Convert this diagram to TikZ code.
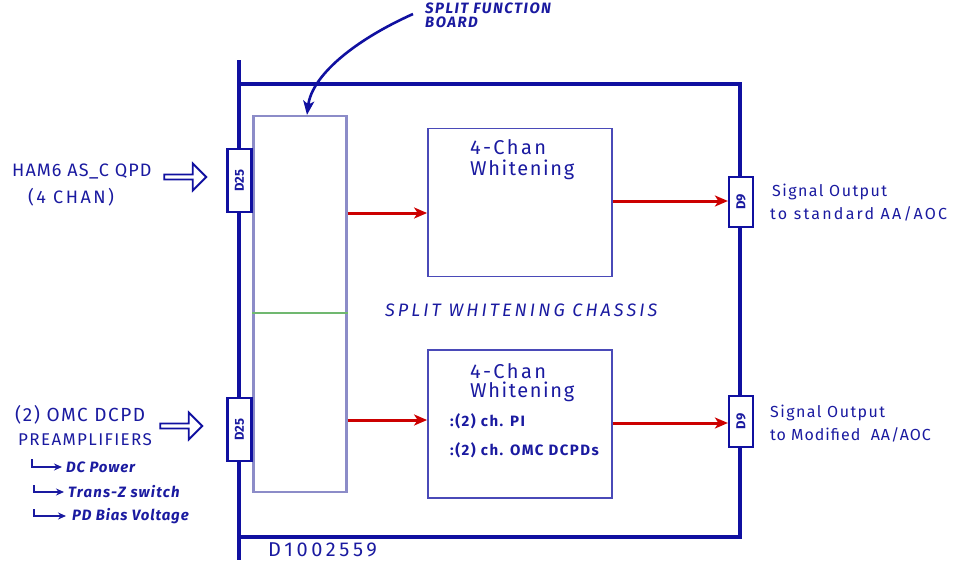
\documentclass[tikz,border=0pt]{standalone}
\usepackage{fontspec}
\setmainfont{Fira Sans}
\usetikzlibrary{arrows.meta,shapes.arrows,calc}
\definecolor{ink}{HTML}{1A1AA0}
\definecolor{chassis}{HTML}{1010A0}
\definecolor{boardc}{HTML}{8C8CC8}
\definecolor{boxc}{HTML}{4A4AB8}
\definecolor{redc}{HTML}{CC0000}
\definecolor{greenc}{HTML}{70B870}
\newcommand{\lsp}[1]{\addfontfeatures{LetterSpace=#1}}
\newcommand{\fsz}[1]{\fontsize{#1}{#1}\selectfont}
\tikzset{
  chline/.style={draw=chassis,line width=3.6pt},
  conn/.style={draw=chassis,line width=2.2pt,fill=white,minimum width=24pt,inner sep=0pt},
  conntext/.style={text=ink,font=\fsz{13}\bfseries,rotate=90},
  redarrow/.style={draw=redc,line width=3pt,-{Stealth[length=13pt,width=11pt,inset=3.5pt]}},
  lbl/.style={text=ink,inner sep=0pt,anchor=west},
  hollow/.style={single arrow,draw=chassis,line width=1.8pt,fill=white,minimum height=42pt,minimum width=27pt,single arrow head extend=4pt,inner sep=0pt,single arrow tip angle=90},
  subarrow/.style={draw=ink,line width=2.4pt,-{Stealth[length=8pt,width=7pt]}},
}
\begin{document}
\begin{tikzpicture}[x=1pt,y=-1pt]
\useasboundingbox (0,0) rectangle (961,563);
% chassis
\coordinate (cl1) at (239,60);
\coordinate (cl2) at (239,560);
\coordinate (ctl) at (239,84);
\coordinate (ctr) at (740,84);
\coordinate (cbl) at (239,537);
\coordinate (cbr) at (740,537);
\draw[chline] (cl1) -- (cl2);
\draw[chline] (ctl) -- (ctr) -- (cbr) -- (cbl);
% board
\node[draw=boardc,line width=2.2pt,minimum width=93pt,minimum height=376pt,inner sep=0pt] (board) at (300,304) {};
\coordinate (g) at (0,313);
\draw[draw=greenc,line width=2.2pt] (board.west |- g) -- (board.east |- g);
% connectors
\node[conn,minimum height=63pt] (d25a) at (239.5,180.5) {};
\node[conntext] at (d25a) {D25};
\node[conn,minimum height=63pt] (d25b) at (239.5,429.5) {};
\node[conntext] at (d25b) {D25};
\node[conn,minimum height=50pt] (d9a) at (741,202) {};
\node[conntext] at (d9a) {D9};
\node[conn,minimum height=51pt] (d9b) at (741,421.5) {};
\node[conntext] at (d9b) {D9};
% whitening boxes
\node[draw=boxc,line width=1.8pt,minimum width=184pt,minimum height=148pt,inner sep=0pt] (wa) at (520,202.5) {};
\node[draw=boxc,line width=1.8pt,minimum width=184pt,minimum height=148pt,inner sep=0pt] (wb) at (520,424) {};
% red arrows
\coordinate (ra) at (0,213);
\coordinate (rb) at (0,201);
\coordinate (rc) at (0,420);
\coordinate (rd) at (0,423);
\draw[redarrow] (board.east |- ra) -- (wa.west |- ra);
\draw[redarrow] (wa.east |- rb) -- (d9a.west |- rb);
\draw[redarrow] (board.east |- rc) -- (wb.west |- rc);
\draw[redarrow] (wb.east |- rd) -- (d9b.west |- rd);
% box texts
\node[lbl,font=\fsz{20}\lsp{12}] at (470,147) {4-Chan};
\node[lbl,font=\fsz{20}\lsp{8}] at (470,170) {Whitening};
\node[lbl,font=\fsz{20}\lsp{12}] at (470,371) {4-Chan};
\node[lbl,font=\fsz{20}\lsp{8}] at (470,392) {Whitening};
\node[lbl,font=\fsz{15}\bfseries\lsp{10}] at (450,421) {:(2) ch. PI};
\node[lbl,font=\fsz{15}\bfseries\lsp{10}] at (450,450) {:(2) ch. OMC DCPDs};
% chassis title
\node[lbl,font=\fsz{18}\itshape\lsp{17}] (title) at (385,310) {SPLIT WHITENING CHASSIS};
\node[lbl,font=\fsz{20}\lsp{18}] (dnum) at (268,550) {D1002559};
% split function board label
\node[lbl,font=\fsz{15}\bfseries\itshape\lsp{10},align=left,anchor=north west] (sfb) at (425,3) {SPLIT FUNCTION\\[-1pt]BOARD};
\coordinate (sfbs) at (413,14);
\draw[draw=chassis,line width=2.6pt,-{Stealth[length=14pt,width=11pt,inset=3.5pt]}] (sfbs) .. controls (355,40) and (312,75) .. (board.north -| 307,0);
% left inputs
\node[lbl,font=\fsz{18}\lsp{6}] (ham) at (12,171) {HAM6 AS\_C QPD};
\node[lbl,font=\fsz{18}\lsp{14}] (chan) at (28,197) {(4 CHAN)};
\node[hollow] (ha) at (184,177) {};
\node[lbl,font=\fsz{19}\lsp{8}] (omc) at (15,415) {(2) OMC DCPD};
\node[lbl,font=\fsz{17}\lsp{8}] (pre) at (18,440) {PREAMPLIFIERS};
\node[hollow] (hb) at (180,426) {};
% sub items
\node[lbl,font=\fsz{15}\bfseries\itshape\lsp{6}] (s1) at (66,467) {DC Power};
\node[lbl,font=\fsz{15}\bfseries\itshape\lsp{8}] (s2) at (68,492) {Trans-Z switch};
\node[lbl,font=\fsz{15}\bfseries\itshape\lsp{6}] (s3) at (72,516) {PD Bias Voltage};
\coordinate (a1) at (32,459);
\coordinate (a2) at (34,485);
\coordinate (a3) at (34,509);
\draw[subarrow] (a1) |- ($(s1.west)+(-4,0)$);
\draw[subarrow] (a2) |- ($(s2.west)+(-4,0)$);
\draw[subarrow] (a3) |- ($(s3.west)+(-6,0)$);
% right outputs
\node[lbl,font=\fsz{16}\lsp{9}] (so1) at (772,192) {Signal Output};
\node[lbl,font=\fsz{16}\lsp{14}] (so2) at (770,214) {to standard AA/AOC};
\node[lbl,font=\fsz{16}\lsp{9}] (so3) at (770,413) {Signal Output};
\node[lbl,font=\fsz{16}\lsp{6}] (so4) at (770,435) {to Modified \ AA/AOC};
\end{tikzpicture}
\end{document}
